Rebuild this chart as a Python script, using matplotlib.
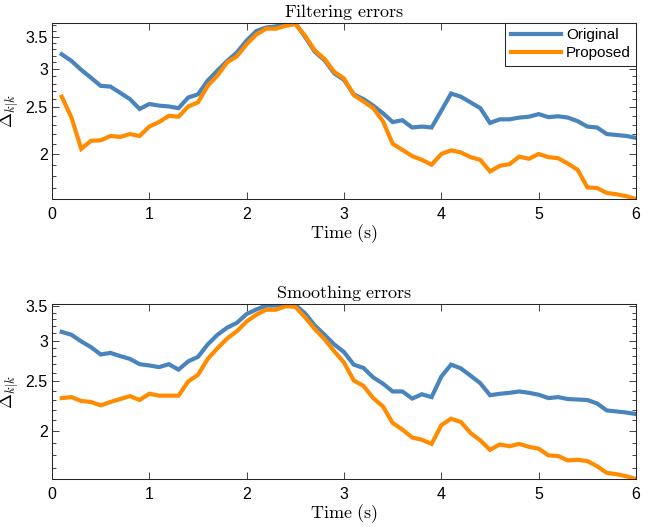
import matplotlib
matplotlib.use("Agg")
import matplotlib.pyplot as plt
from matplotlib.ticker import FixedLocator, FixedFormatter, NullFormatter
import numpy as np

plt.rcParams['mathtext.fontset'] = 'cm'
plt.rcParams['font.family'] = ['Liberation Sans', 'DejaVu Sans']

time = [0.1, 0.2, 0.3, 0.4, 0.5, 0.6, 0.7, 0.8, 0.9, 1.0,
        1.1, 1.2, 1.3, 1.4, 1.5, 1.6, 1.7, 1.8, 1.9, 2.0,
        2.1, 2.2, 2.3, 2.4, 2.5, 2.6, 2.7, 2.8, 2.9, 3.0,
        3.1, 3.2, 3.3, 3.4, 3.5, 3.6, 3.7, 3.8, 3.9, 4.0,
        4.1, 4.2, 4.3, 4.4, 4.5, 4.6, 4.7, 4.8, 4.9, 5.0,
        5.1, 5.2, 5.3, 5.4, 5.5, 5.6, 5.7, 5.8, 5.9, 6.0]

filt_original = [3.22, 3.12, 2.99, 2.88, 2.77, 2.76, 2.68, 2.60, 2.48, 2.54,
                 2.52, 2.51, 2.49, 2.62, 2.66, 2.84, 2.98, 3.12, 3.25, 3.44,
                 3.60, 3.66, 3.68, 3.74, 3.74, 3.50, 3.26, 3.13, 2.94, 2.85,
                 2.66, 2.60, 2.52, 2.43, 2.33, 2.35, 2.27, 2.28, 2.27, 2.46,
                 2.67, 2.63, 2.56, 2.49, 2.32, 2.36, 2.36, 2.38, 2.39, 2.42,
                 2.385, 2.395, 2.38, 2.34, 2.28, 2.27, 2.20, 2.19, 2.18, 2.16]

filt_proposed = [2.63, 2.38, 2.05, 2.13, 2.135, 2.18, 2.17, 2.20, 2.18, 2.28,
                 2.33, 2.40, 2.39, 2.51, 2.56, 2.77, 2.91, 3.10, 3.19, 3.38,
                 3.54, 3.64, 3.64, 3.69, 3.72, 3.52, 3.28, 3.15, 2.96, 2.87,
                 2.65, 2.57, 2.49, 2.34, 2.10, 2.04, 1.98, 1.945, 1.90, 2.00,
                 2.035, 2.015, 1.97, 1.945, 1.84, 1.89, 1.905, 1.975, 1.955, 2.00,
                 1.97, 1.96, 1.91, 1.855, 1.705, 1.70, 1.66, 1.65, 1.635, 1.613]

smooth_original = [3.12, 3.08, 2.99, 2.915, 2.82, 2.84, 2.80, 2.765, 2.70, 2.685,
                   2.665, 2.70, 2.635, 2.735, 2.79, 2.95, 3.08, 3.18, 3.25, 3.38,
                   3.45, 3.51, 3.51, 3.535, 3.52, 3.39, 3.21, 3.08, 2.95, 2.85,
                   2.695, 2.655, 2.545, 2.475, 2.39, 2.39, 2.315, 2.36, 2.33, 2.555,
                   2.695, 2.65, 2.565, 2.48, 2.35, 2.365, 2.375, 2.39, 2.375, 2.355,
                   2.32, 2.33, 2.31, 2.305, 2.30, 2.265, 2.195, 2.185, 2.175, 2.16]

smooth_proposed = [2.32, 2.33, 2.29, 2.28, 2.245, 2.28, 2.31, 2.34, 2.30, 2.365,
                   2.345, 2.345, 2.345, 2.50, 2.575, 2.765, 2.90, 3.03, 3.13, 3.27,
                   3.37, 3.445, 3.445, 3.50, 3.49, 3.33, 3.16, 3.02, 2.86, 2.72,
                   2.51, 2.45, 2.32, 2.235, 2.075, 2.015, 1.945, 1.925, 1.89, 2.055,
                   2.115, 2.085, 1.985, 1.92, 1.84, 1.885, 1.87, 1.89, 1.865, 1.85,
                   1.795, 1.79, 1.755, 1.76, 1.75, 1.71, 1.66, 1.65, 1.635, 1.615]

x_ticks = [0, 1, 2, 3, 4, 5, 6]
y_ticks = [2, 2.5, 3, 3.5]
y_ticklabels = ['2', '2.5', '3', '3.5']
titles = ['Filtering errors', 'Smoothing errors']
series_names = ['Original', 'Proposed']

BLUE = '#4A84BC'
ORANGE = '#FF8C00'
FRAME = '#262626'

fig = plt.figure(figsize=(6.46, 5.27), dpi=100)
W, H = 646, 527
rects = [(52, 23, 636, 199), (52, 304, 636, 479)]

panels = [(filt_original, filt_proposed), (smooth_original, smooth_proposed)]

for i, ((l, t, r, b), (orig, prop)) in enumerate(zip(rects, panels)):
    ax = fig.add_axes([l / W, 1 - b / H, (r - l) / W, (b - t) / H])
    ax.plot(time, orig, color=BLUE, lw=3, label=series_names[0], solid_joinstyle='miter')
    ax.plot(time, prop, color=ORANGE, lw=3, label=series_names[1], solid_joinstyle='miter')
    ax.set_yscale('log')
    lo = min(min(orig), min(prop))
    hi = max(max(orig), max(prop))
    ax.set_ylim(lo, hi)
    ax.set_xlim(0, 6)
    ax.set_xticks(x_ticks)
    ax.yaxis.set_major_locator(FixedLocator(y_ticks))
    ax.yaxis.set_major_formatter(FixedFormatter(y_ticklabels))
    minors = [v / 10 for v in range(10, 50)]
    ax.yaxis.set_minor_locator(FixedLocator(minors))
    ax.yaxis.set_minor_formatter(NullFormatter())
    ax.tick_params(which='both', direction='in', top=True, right=True,
                   colors=FRAME, labelcolor='black', width=0.6)
    ax.tick_params(which='major', length=5, labelsize=11.5)
    ax.tick_params(which='minor', length=3)
    ax.tick_params(axis='x', pad=6)
    ax.tick_params(axis='y', pad=3)
    for s in ax.spines.values():
        s.set_color(FRAME)
        s.set_linewidth(0.75)
    ax.set_title(r'$\mathrm{' + titles[i].replace(' ', r'\ ') + '}$', fontsize=13, pad=4)
    ax.set_xlabel(r'$\mathrm{Time\ (s)}$', fontsize=13, labelpad=0)
    ax.set_ylabel(r'$\Delta_{k|k}$', fontsize=13)
    ax.yaxis.set_label_coords(-31.0 / (r - l), 0.5)
    if i == 0:
        leg = ax.legend(loc='upper right', borderaxespad=0, fancybox=False,
                        framealpha=1, edgecolor=FRAME, fontsize=11,
                        handlelength=3.3, handletextpad=0.3, borderpad=0.35,
                        labelspacing=0.25)
        leg.get_frame().set_linewidth(0.75)

fig.savefig('out.png', dpi=100)
